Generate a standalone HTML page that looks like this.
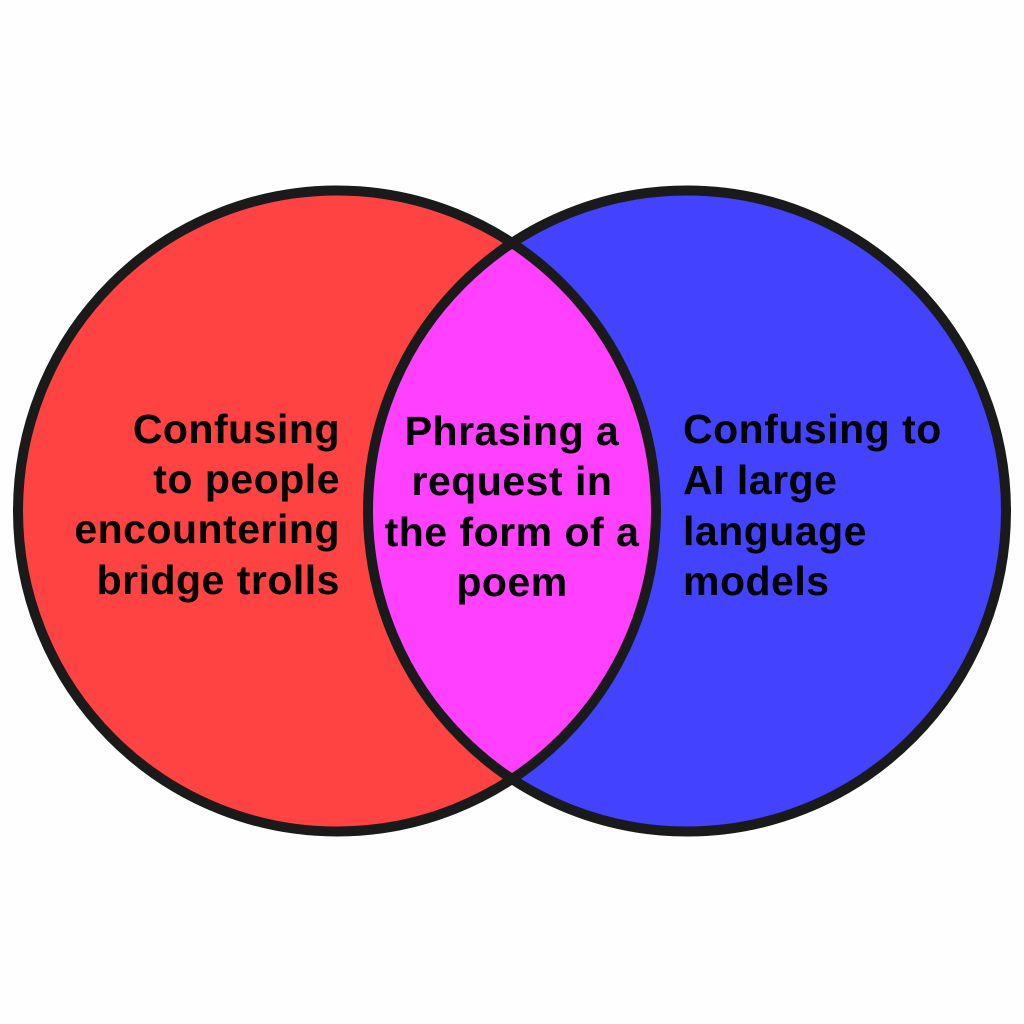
<!DOCTYPE html>
<html>
<head>
<meta charset="utf-8">
<style>
html,body{margin:0;padding:0;background:#fefefe;}
svg{display:block;}
text{font-family:"Liberation Sans",Arial,sans-serif;font-weight:bold;font-size:41px;fill:#000;letter-spacing:0.5px;}
</style>
</head>
<body>
<svg width="1024" height="1024" viewBox="0 0 1024 1024" xmlns="http://www.w3.org/2000/svg">
  <defs>
    <clipPath id="cl">
      <ellipse cx="337" cy="511" rx="319" ry="320.5"/>
    </clipPath>
  </defs>
  <rect width="1024" height="1024" fill="#fefefe"/>
  <ellipse cx="337" cy="511" rx="319" ry="320.5" fill="#ff4242"/>
  <ellipse cx="687" cy="511" rx="319" ry="320.5" fill="#4242ff"/>
  <ellipse cx="687" cy="511" rx="319" ry="320.5" fill="#ff40ff" clip-path="url(#cl)"/>
  <ellipse cx="337" cy="511" rx="319" ry="320.5" fill="none" stroke="#1a1a1a" stroke-width="10"/>
  <ellipse cx="687" cy="511" rx="319" ry="320.5" fill="none" stroke="#1a1a1a" stroke-width="10"/>

  <g text-anchor="end">
    <text x="340" y="443">Confusing</text>
    <text x="340" y="493">to people</text>
    <text x="340" y="543">encountering</text>
    <text x="340" y="594">bridge trolls</text>
  </g>
  <g text-anchor="middle">
    <text x="512" y="445">Phrasing a</text>
    <text x="512" y="495">request in</text>
    <text x="512" y="546">the form of a</text>
    <text x="512" y="596">poem</text>
  </g>
  <g text-anchor="start">
    <text x="683" y="443">Confusing to</text>
    <text x="683" y="494">AI large</text>
    <text x="683" y="545">language</text>
    <text x="683" y="595">models</text>
  </g>
</svg>
</body>
</html>
